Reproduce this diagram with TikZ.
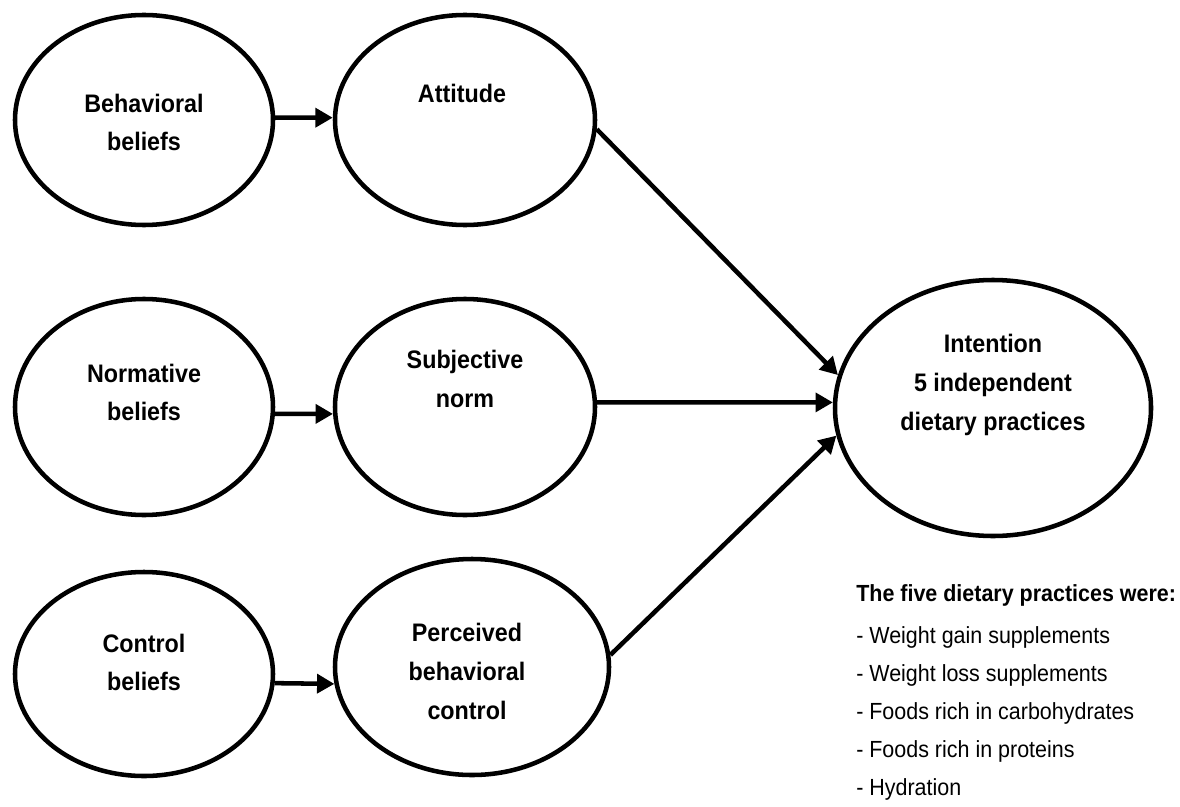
\documentclass[tikz,border=0pt]{standalone}
\usepackage{fontspec}
\setmainfont{Liberation Sans}
\newfontfamily\narrowfont[FakeStretch=0.92]{Liberation Sans}
\usetikzlibrary{shapes.geometric,arrows.meta,calc,positioning}

\tikzset{
  oval/.style={ellipse,draw,line width=3.4pt,inner sep=0pt},
  lbl/.style={font=\narrowfont\bfseries\fontsize{19}{29}\selectfont,align=center,inner sep=0pt},
  keytext/.style={font=\narrowfont\fontsize{17.5}{28.5}\selectfont,align=left,inner sep=0pt},
  arr/.style={line width=3.4pt,-{Triangle[length=13pt,width=14pt]}}
}

\begin{document}
\begin{tikzpicture}[x=0.75pt,y=-0.75pt,line join=round]
\useasboundingbox (0,0) rectangle (1180,806);
% ellipses
\node[oval,minimum width=193.5pt,minimum height=157.5pt] (bb) at (144,120) {};
\node[oval,minimum width=195pt,minimum height=157.5pt] (att) at (465,120) {};
\node[oval,minimum width=193.5pt,minimum height=162pt] (nb) at (144,407) {};
\node[oval,minimum width=195pt,minimum height=162pt] (sn) at (465,407) {};
\node[oval,minimum width=193.5pt,minimum height=153pt] (cb) at (144,674) {};
\node[oval,minimum width=205.5pt,minimum height=162pt] (pbc) at (472,667) {};
\node[oval,minimum width=237pt,minimum height=192pt] (int) at (993,408) {};
% labels
\node[lbl] (bb-lbl) at ($(bb)+(0,2.5)$) {Behavioral\\beliefs};
\node[lbl] (att-lbl) at ($(att)+(-3,-27)$) {Attitude};
\node[lbl] (nb-lbl) at ($(nb)+(0,-14.5)$) {Normative\\beliefs};
\node[lbl] (sn-lbl) at ($(sn)+(0,-28)$) {Subjective\\norm};
\node[lbl] (cb-lbl) at ($(cb)+(0,-11.5)$) {Control\\beliefs};
\node[lbl] (pbc-lbl) at ($(pbc)+(-5,4.5)$) {Perceived\\behavioral\\control};
\node[lbl] (int-lbl) at ($(int)+(0,-23)$) {Intention\\5 independent\\dietary practices};
% arrows
\draw[arr] (bb.1) -- (att.179);
\draw[arr] (nb.-3) -- (sn.183);
\draw[arr] (cb.-4) -- (pbc.187);
\draw[arr] (att.-4) -- (int.168);
\draw[arr] (sn.2) -- (int.178);
\draw[arr] (pbc.5) -- (int.190);
% practices
\node[keytext,anchor=north west] (key) at (856,584) {\textbf{The five dietary practices were:}\\[3pt]
- Weight gain supplements\\
- Weight loss supplements\\
- Foods rich in carbohydrates\\
- Foods rich in proteins\\
- Hydration};
\end{tikzpicture}
\end{document}
